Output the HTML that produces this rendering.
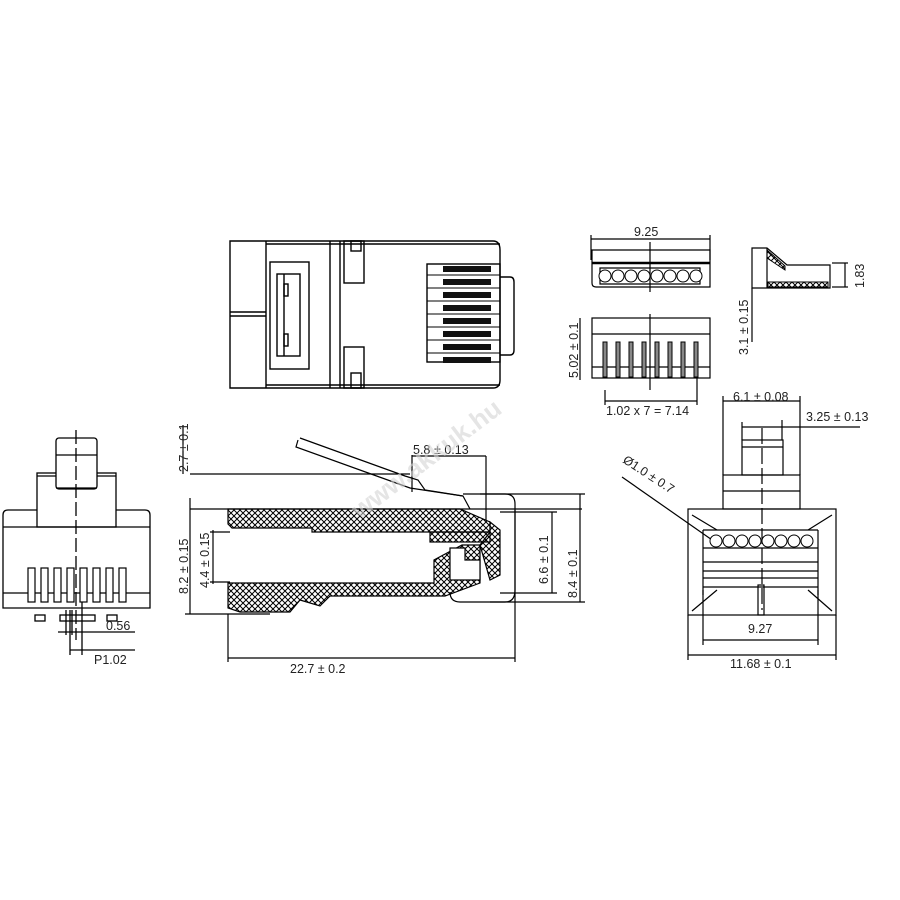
<!DOCTYPE html>
<html><head><style>
body{margin:0;background:#fff}
svg{display:block}
text{font-family:"Liberation Sans",sans-serif;font-size:12.5px;fill:#222}
</style></head><body>
<svg width="900" height="900" viewBox="0 0 900 900" xmlns="http://www.w3.org/2000/svg">
<defs>
<pattern id="h" width="6" height="6" patternUnits="userSpaceOnUse">
<path d="M0,0L6,6M6,0L0,6" stroke="#000" stroke-width="1"/>
</pattern>
</defs>
<g fill="none" stroke="#000" stroke-width="1.4">
<!-- TOP VIEW -->
<path d="M230,241 H493 Q500,241 500,250 V380 Q500,388 493,388 H230 Z"/>
<path d="M500,277 H510 Q514,277 514,282 V350 Q514,355 510,355 H500"/>
<line x1="266" y1="241" x2="266" y2="388"/>
<line x1="330" y1="241" x2="330" y2="388"/>
<line x1="340" y1="241" x2="340" y2="388"/>
<line x1="230" y1="312" x2="266" y2="312"/><line x1="230" y1="316" x2="266" y2="316"/>
<rect x="270" y="262" width="39" height="107"/>
<rect x="277" y="274" width="23" height="82"/>
<line x1="284" y1="274" x2="284" y2="356"/>
<rect x="284" y="284" width="4" height="12"/><rect x="284" y="334" width="4" height="12"/>
<rect x="344" y="241" width="20" height="42"/><rect x="344" y="347" width="20" height="41"/>
<rect x="351" y="241" width="10" height="10"/><rect x="351" y="373" width="10" height="15"/>
<line x1="266" y1="244" x2="500" y2="244"/><line x1="266" y1="385" x2="500" y2="385"/>
<rect x="427" y="264" width="73" height="98"/>
</g>
<g>
<rect x="443" y="266" width="48" height="6" fill="#111"/><rect x="443" y="279" width="48" height="6" fill="#111"/>
<rect x="443" y="292" width="48" height="6" fill="#111"/><rect x="443" y="305" width="48" height="6" fill="#111"/>
<rect x="443" y="318" width="48" height="6" fill="#111"/><rect x="443" y="331" width="48" height="6" fill="#111"/>
<rect x="443" y="344" width="48" height="6" fill="#111"/><rect x="443" y="357" width="48" height="6" fill="#111"/>
</g>
<g stroke="#000" stroke-width="1">
<line x1="427" y1="275" x2="500" y2="275"/><line x1="427" y1="288" x2="500" y2="288"/><line x1="427" y1="301" x2="500" y2="301"/><line x1="427" y1="314" x2="500" y2="314"/><line x1="427" y1="327" x2="500" y2="327"/><line x1="427" y1="340" x2="500" y2="340"/><line x1="427" y1="353" x2="500" y2="353"/>
</g>

<!-- SIDE VIEW -->
<g fill="none" stroke="#000" stroke-width="1.2">
<line x1="183" y1="425" x2="183" y2="474"/>
<line x1="190" y1="474" x2="410" y2="474"/>
<line x1="190" y1="509" x2="582" y2="509"/>
<line x1="190" y1="498" x2="190" y2="614"/>
<line x1="185" y1="614" x2="270" y2="614"/>
<line x1="210" y1="532" x2="230" y2="532"/><line x1="210" y1="582" x2="230" y2="582"/>
<line x1="213" y1="530" x2="213" y2="584"/>
<line x1="228" y1="614" x2="228" y2="662"/>
<line x1="515" y1="510" x2="515" y2="662"/>
<line x1="228" y1="658" x2="515" y2="658"/>
<line x1="412" y1="455" x2="412" y2="492"/>
<line x1="412" y1="456" x2="486" y2="456"/>
<line x1="486" y1="456" x2="486" y2="520"/>
<line x1="500" y1="512" x2="557" y2="512"/><line x1="500" y1="593" x2="557" y2="593"/>
<line x1="552" y1="512" x2="552" y2="593"/>
<line x1="480" y1="494" x2="585" y2="494"/><line x1="490" y1="602" x2="585" y2="602"/>
<line x1="580" y1="494" x2="580" y2="602"/>
<path d="M298,440 L296,447 L410,488 L463,496 L470,509"/>
<path d="M300,438 L405,476 L418,480 L425,490 L463,496"/>
<path d="M463,494 H505 Q515,494 515,504 V590 Q515,602 505,602 H460 Q450,602 450,592"/>
</g>
<g stroke="#000" stroke-width="1.2">
<path d="M228,509 H460 L490,522 L490,532 L312,532 L312,528 L232,528 L228,524 Z" fill="url(#h)"/>
<path d="M228,583 H434 L434,560 L462,545 L480,545 L480,583 L445,596 L330,596 L320,606 L300,600 L290,612 L240,612 L228,608 Z" fill="url(#h)"/>
<path d="M490,522 L500,530 L500,575 L490,580 L480,545 L490,532Z" fill="url(#h)"/>
<rect x="430" y="532" width="60" height="10" fill="url(#h)"/>
<path d="M450,580 H480 V560 H465 V548 H450Z" fill="#fff"/>
</g>

<!-- LEFT FRONT VIEW -->
<g fill="none" stroke="#000" stroke-width="1.3">
<path d="M3,608 V515 Q3,510 8,510 H145 Q150,510 150,515 V608 Z" fill="#fff"/>
<rect x="37" y="473" width="79" height="54" fill="#fff"/>
<line x1="37" y1="476" x2="116" y2="476"/>
<rect x="56" y="438" width="41" height="51" rx="3" fill="#fff"/>
<line x1="56" y1="455" x2="97" y2="455"/><line x1="56" y1="488" x2="97" y2="488"/>
<line x1="3" y1="527" x2="150" y2="527"/>
<line x1="3" y1="593" x2="150" y2="593"/>
<line x1="76" y1="430" x2="76" y2="640" stroke-dasharray="14,4"/>
<rect x="35" y="615" width="10" height="6"/><rect x="60" y="615" width="35" height="6"/><rect x="107" y="615" width="10" height="6"/>
<line x1="58" y1="632" x2="135" y2="632"/><line x1="66" y1="610" x2="66" y2="635"/><line x1="72" y1="610" x2="72" y2="635"/>
<line x1="70" y1="610" x2="70" y2="655"/><line x1="82" y1="600" x2="82" y2="655"/>
<line x1="70" y1="650" x2="135" y2="650"/>
</g>
<g fill="#fff" stroke="#000" stroke-width="1.2">
<rect x="28" y="568" width="7" height="34"/><rect x="41" y="568" width="7" height="34"/><rect x="54" y="568" width="7" height="34"/><rect x="67" y="568" width="7" height="34"/><rect x="80" y="568" width="7" height="34"/><rect x="93" y="568" width="7" height="34"/><rect x="106" y="568" width="7" height="34"/><rect x="119" y="568" width="7" height="34"/>
</g>

<!-- SMALL TOP-RIGHT -->
<g fill="none" stroke="#000" stroke-width="1.2">
<line x1="591" y1="235" x2="591" y2="260"/><line x1="710" y1="235" x2="710" y2="260"/>
<line x1="591" y1="239" x2="710" y2="239"/>
<path d="M592,250 H710 V287 H596 Q592,287 592,283 Z"/>
<line x1="592" y1="263" x2="710" y2="263" stroke-width="2.5"/>
<line x1="650" y1="242" x2="650" y2="292"/>
<path d="M600,268 h100 v16 h-100 z"/>
<rect x="592" y="318" width="118" height="60"/>
<line x1="592" y1="334" x2="710" y2="334"/><line x1="592" y1="367" x2="710" y2="367"/>
<line x1="650" y1="314" x2="650" y2="390"/>
<line x1="605" y1="390" x2="605" y2="405"/><line x1="697" y1="378" x2="697" y2="405"/>
<line x1="605" y1="401" x2="697" y2="401"/>
<line x1="580" y1="318" x2="580" y2="380"/>
<path d="M752,248 H767 L787,265 H830 V288 H752 Z"/>
<line x1="767" y1="248" x2="767" y2="288"/>
<line x1="752" y1="288" x2="752" y2="342"/>
<line x1="832" y1="263" x2="848" y2="263"/><line x1="832" y1="287" x2="848" y2="287"/>
<line x1="845" y1="263" x2="845" y2="287"/>
</g>
<g fill="#fff" stroke="#000" stroke-width="1">
<circle cx="605" cy="276" r="6"/><circle cx="618" cy="276" r="6"/><circle cx="631" cy="276" r="6"/><circle cx="644" cy="276" r="6"/><circle cx="657" cy="276" r="6"/><circle cx="670" cy="276" r="6"/><circle cx="683" cy="276" r="6"/><circle cx="696" cy="276" r="6"/>
<rect x="603" y="342" width="4" height="35" fill="#888"/><rect x="616" y="342" width="4" height="35" fill="#888"/><rect x="629" y="342" width="4" height="35" fill="#888"/><rect x="642" y="342" width="4" height="35" fill="#888"/><rect x="655" y="342" width="4" height="35" fill="#888"/><rect x="668" y="342" width="4" height="35" fill="#888"/><rect x="681" y="342" width="4" height="35" fill="#888"/><rect x="694" y="342" width="4" height="35" fill="#888"/>
<rect x="768" y="282" width="60" height="5" fill="url(#h)"/>
<path d="M767,250 L785,266 L785,270 L767,258Z" fill="url(#h)"/>
</g>

<!-- RIGHT FRONT VIEW -->
<g fill="none" stroke="#000" stroke-width="1.2">
<line x1="723" y1="396" x2="723" y2="475"/><line x1="800" y1="396" x2="800" y2="475"/>
<line x1="723" y1="401" x2="800" y2="401"/>
<line x1="742" y1="422" x2="742" y2="440"/><line x1="782" y1="420" x2="782" y2="440"/>
<line x1="742" y1="427" x2="860" y2="427"/>
<rect x="742" y="440" width="41" height="35"/>
<line x1="742" y1="447" x2="783" y2="447"/>
<rect x="723" y="475" width="77" height="34"/>
<line x1="723" y1="491" x2="800" y2="491"/>
<line x1="762" y1="428" x2="762" y2="610" stroke-dasharray="16,4"/>
<rect x="688" y="509" width="148" height="106"/>
<line x1="688" y1="615" x2="688" y2="660"/><line x1="836" y1="615" x2="836" y2="660"/>
<line x1="688" y1="655" x2="836" y2="655"/>
<line x1="703" y1="590" x2="703" y2="645"/><line x1="818" y1="590" x2="818" y2="645"/>
<line x1="703" y1="640" x2="818" y2="640"/>
<path d="M692,515 L717,530 M832,515 L808,530 M692,611 L717,590 M832,611 L808,590"/>
<line x1="703" y1="530" x2="818" y2="530"/>
<line x1="703" y1="548" x2="818" y2="548"/><line x1="703" y1="562" x2="818" y2="562"/>
<line x1="703" y1="571" x2="818" y2="571"/><line x1="703" y1="578" x2="818" y2="578"/><line x1="703" y1="587" x2="818" y2="587"/>
<line x1="703" y1="530" x2="703" y2="595"/><line x1="818" y1="530" x2="818" y2="595"/>
<rect x="758" y="585" width="6" height="30"/>
<line x1="622" y1="477" x2="715" y2="542"/>
</g>
<g fill="#fff" stroke="#000" stroke-width="1">
<circle cx="716" cy="541" r="6"/><circle cx="729" cy="541" r="6"/><circle cx="742" cy="541" r="6"/><circle cx="755" cy="541" r="6"/><circle cx="768" cy="541" r="6"/><circle cx="781" cy="541" r="6"/><circle cx="794" cy="541" r="6"/><circle cx="807" cy="541" r="6"/>
</g>

<!-- TEXT -->
<text x="634" y="236">9.25</text>
<text x="606" y="415">1.02 x 7 = 7.14</text>
<text x="733" y="401">6.1 ± 0.08</text>
<text x="806" y="421">3.25 ± 0.13</text>
<text x="413" y="454">5.8</text><text x="434" y="454">± 0.13</text>
<text x="290" y="673">22.7 ± 0.2</text>
<text x="106" y="630">0.56</text>
<text x="94" y="664">P1.02</text>
<text x="748" y="633">9.27</text>
<text x="730" y="668">11.68 ± 0.1</text>
<text transform="translate(188,472) rotate(-90)">2.7 ± 0.1</text>
<text transform="translate(188,594) rotate(-90)">8.2 ± 0.15</text>
<text transform="translate(209,588) rotate(-90)">4.4 ± 0.15</text>
<text transform="translate(548,584) rotate(-90)">6.6 ± 0.1</text>
<text transform="translate(577,598) rotate(-90)">8.4 ± 0.1</text>
<text transform="translate(578,378) rotate(-90)">5.02 ± 0.1</text>
<text transform="translate(748,355) rotate(-90)">3.1 ± 0.15</text>
<text transform="translate(864,288) rotate(-90)">1.83</text>
<text transform="translate(622,462) rotate(33)">Ø1.0 ± 0.7</text>
<text transform="translate(360,520) rotate(-37)" style="font-size:26px;font-weight:bold;fill:#d4d4d4;opacity:0.6">www.akkuk.hu</text>
</svg>
</body></html>
